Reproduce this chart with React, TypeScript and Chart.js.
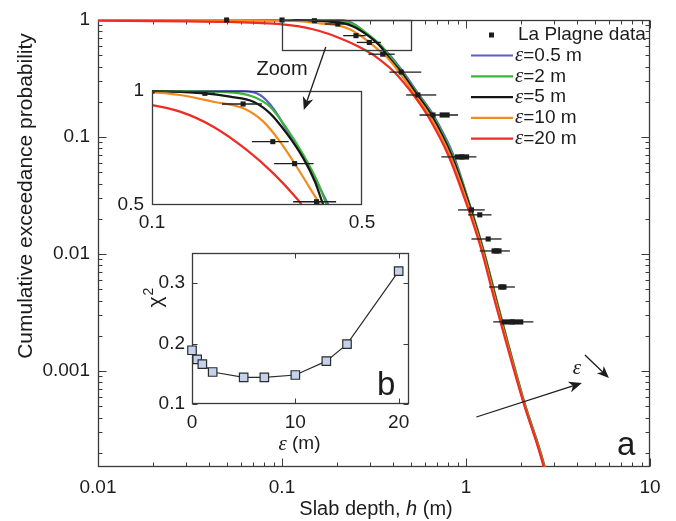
import { useEffect, useRef } from "react";
import { Chart, registerables } from "chart.js";

Chart.register(...registerables);

const SANS = '"Liberation Sans", Arial, Helvetica, sans-serif';
const SERIF = '"Liberation Serif", "Times New Roman", serif';
const INK = "#1c1c1c";
const FRAME = "#3a3a3a";

// ---- model curves: slab depth h (m) against exceedance probability, one per ε ----
const epsLabels = ["0.5", "2", "5", "10", "20"];
const curveColors = ["#5b5fc9", "#3db43a", "#161616", "#f28b1d", "#ee2b25"];

const hEps05 = [0.01, 0.1, 0.2014, 0.2288, 0.2534, 0.2807, 0.319, 0.3533, 0.3863, 0.4555, 0.5569, 0.6641, 0.8536, 1.057, 1.244, 1.465, 2.057, 2.678, 2.852];
const pEps05 = [1, 1, 0.999, 0.976, 0.9, 0.789, 0.671, 0.576, 0.5, 0.3594, 0.2286, 0.1542, 0.0702, 0.0252, 0.01082, 0.004043, 0.000565, 0.000151, 0.000096];

const hEps2 = [0.01, 0.1, 0.1818, 0.2175, 0.2471, 0.2807, 0.319, 0.3533, 0.3815, 0.4498, 0.5498, 0.6557, 0.8429, 1.057, 1.244, 1.465, 2.057, 2.678, 2.852];
const pEps2 = [1, 1, 0.992, 0.966, 0.909, 0.797, 0.678, 0.582, 0.5, 0.3594, 0.2286, 0.1542, 0.0702, 0.0252, 0.01082, 0.004043, 0.000565, 0.000151, 0.000096];

const hEps5 = [0.01, 0.1, 0.15, 0.1818, 0.2175, 0.2471, 0.2807, 0.319, 0.3487, 0.3718, 0.4442, 0.5431, 0.6475, 0.8325, 1.0503, 1.2366, 1.4558, 2.044, 2.6607, 2.8337];
const pEps5 = [1, 0.998, 0.986, 0.966, 0.937, 0.873, 0.773, 0.664, 0.576, 0.5, 0.3594, 0.2286, 0.1542, 0.0702, 0.0252, 0.01082, 0.004043, 0.000565, 0.000151, 0.000096];

const hEps10 = [0.01, 0.05, 0.1, 0.124, 0.16, 0.2014, 0.2348, 0.2667, 0.3031, 0.3357, 0.3624, 0.4331, 0.5295, 0.6314, 0.817, 1.0371, 1.2289, 1.4467, 2.044, 2.6607, 2.8337];
const pEps10 = [0.999, 0.997, 0.992, 0.976, 0.937, 0.9, 0.83, 0.735, 0.631, 0.553, 0.5, 0.3594, 0.2286, 0.1542, 0.0702, 0.0252, 0.01082, 0.004043, 0.000565, 0.000151, 0.000096];

const hEps20 = [0.01, 0.03, 0.05, 0.1, 0.124, 0.16, 0.2066, 0.2535, 0.3034, 0.3154, 0.4073, 0.5184, 0.6157, 0.8, 1.0197, 1.2134, 1.4285, 2.0313, 2.6445, 2.8155];
const pEps20 = [0.985, 0.975, 0.962, 0.918, 0.882, 0.805, 0.699, 0.606, 0.52, 0.5, 0.3594, 0.2286, 0.1542, 0.0702, 0.0252, 0.01082, 0.004043, 0.000565, 0.000151, 0.000096];

const curveH = [hEps05, hEps2, hEps5, hEps10, hEps20];
const curveP = [pEps05, pEps2, pEps5, pEps10, pEps20];

// ---- La Plagne observations (value, thin range, thick core range) ----
const obsH = [0.05, 0.1, 0.15, 0.201, 0.2524, 0.2983, 0.3529, 0.4442, 0.5478, 0.6615, 0.95, 1.0703, 1.188, 1.3201, 1.465, 1.575, 1.786];
const obsP = [1.0, 1.0, 0.986, 0.924, 0.735, 0.643, 0.51, 0.359, 0.2286, 0.1542, 0.0675, 0.0238, 0.0216, 0.01343, 0.01061, 0.00522, 0.002624];
const obsLow = [0.049, 0.098, 0.139, 0.171, 0.215, 0.255, 0.295, 0.3836, 0.4729, 0.5589, 0.7342, 0.9055, 1.0268, 1.0703, 1.188, 1.335, 1.4058];
const obsHigh = [0.051, 0.102, 0.162, 0.232, 0.285, 0.345, 0.41, 0.5711, 0.6894, 0.9055, 1.1394, 1.2647, 1.3761, 1.5604, 1.7312, 1.8443, 2.3236];
const obsCoreLow: (number | null)[] = [null, null, null, null, null, null, null, null, null, 0.7186, 0.87, null, null, null, 1.3761, 1.4966, 1.5604];
const obsCoreHigh: (number | null)[] = [null, null, null, null, null, null, null, null, null, 0.815, 1.04, null, null, null, 1.5604, 1.661, 2.0489];

// ---- misfit against ε ----
const epsGrid = [0, 0.5, 1, 2, 5, 7, 10, 13, 15, 20];
const chi2 = [0.189, 0.174, 0.166, 0.153, 0.144, 0.144, 0.148, 0.171, 0.199, 0.32];

// ---- axis ticks ----
const mainXTicks = [0.01, 0.1, 1, 10];
const mainYTicks = [0.001, 0.01, 0.1, 1];
const zoomXTicks = [0.1, 0.5];
const zoomYTicks = [0.5, 1];
const epsTicks = [0, 10, 20];
const chiTicks = [0.1, 0.2, 0.3];

// ---- annotation anchors (data coordinates of the main axes) ----
const zoomBoxH = [0.1, 0.5];
const zoomBoxP = [0.554, 1];
const zoomArrowH = [0.173, 0.1314];
const zoomArrowP = [0.588, 0.17];
const zoomTextAt = [0.1, 0.374];
const epsArrowH = [1.139, 4.263];
const epsArrowP = [4.04e-4, 7.9e-4];
const epsTextAt = [4.0, 1.06e-3];
const epsSmallArrowH = [4.43, 5.98];
const epsSmallArrowP = [1.37e-3, 8.7e-4];

function drawArrow(ctx: CanvasRenderingContext2D, x1: number, y1: number, x2: number, y2: number, len = 13, half = 5.5) {
  const ang = Math.atan2(y2 - y1, x2 - x1);
  const c = Math.cos(ang), s = Math.sin(ang);
  const bx = x2 - len * c, by = y2 - len * s;
  const nx = x2 - len * 0.72 * c, ny = y2 - len * 0.72 * s;
  ctx.beginPath();
  ctx.moveTo(x1, y1);
  ctx.lineTo(nx, ny);
  ctx.stroke();
  ctx.beginPath();
  ctx.moveTo(x2, y2);
  ctx.lineTo(bx - half * s, by + half * c);
  ctx.lineTo(nx, ny);
  ctx.lineTo(bx + half * s, by - half * c);
  ctx.closePath();
  ctx.fill();
}

function logMarks(min: number, max: number) {
  const out: { v: number; major: boolean }[] = [];
  for (let e = Math.floor(Math.log10(min)); e <= Math.ceil(Math.log10(max)); e++) {
    for (let m = 1; m <= 9; m++) {
      const v = m * Math.pow(10, e);
      if (v >= min * 0.9999 && v <= max * 1.0001) out.push({ v, major: m === 1 });
    }
  }
  return out;
}

function drawFrame(chart: any, xMarks: { v: number; major: boolean }[], yMarks: { v: number; major: boolean }[], majorLen: number, minorLen: number) {
  const { ctx, chartArea: a, scales } = chart;
  const L = Math.round(a.left) + 0.5, R = Math.round(a.right) - 0.5;
  const T = Math.round(a.top) + 0.5, B = Math.round(a.bottom) - 0.5;
  ctx.save();
  ctx.strokeStyle = FRAME;
  ctx.lineWidth = 1;
  ctx.beginPath();
  for (const m of xMarks) {
    const px = Math.round(scales.x.getPixelForValue(m.v)) + 0.5;
    const len = m.major ? majorLen : minorLen;
    ctx.moveTo(px, B); ctx.lineTo(px, B - len);
    ctx.moveTo(px, T); ctx.lineTo(px, T + len);
  }
  for (const m of yMarks) {
    const py = Math.round(scales.y.getPixelForValue(m.v)) + 0.5;
    const len = m.major ? majorLen : minorLen;
    ctx.moveTo(L, py); ctx.lineTo(L + len, py);
    ctx.moveTo(R, py); ctx.lineTo(R - len, py);
  }
  ctx.stroke();
  ctx.lineWidth = 1.3;
  ctx.strokeRect(L, T, R - L, B - T);
  ctx.restore();
}

function curveSets(width: number, clip: any) {
  return curveH.map((hs, i) => ({
    label: `ε = ${epsLabels[i]} m`,
    data: hs.map((h, k) => ({ x: h, y: curveP[i][k] })),
    showLine: true,
    borderColor: curveColors[i],
    backgroundColor: curveColors[i],
    borderWidth: width,
    pointRadius: 0,
    cubicInterpolationMode: "monotone",
    order: curveH.length - i,
    clip,
  }));
}

function obsSet(radius: number, clip: any) {
  return {
    label: "La Plagne data",
    data: obsH.map((h, k) => ({ x: h, y: obsP[k] })),
    showLine: false,
    pointStyle: "rect",
    pointRadius: radius,
    backgroundColor: INK,
    borderColor: INK,
    borderWidth: 0,
    order: 0,
    clip,
  };
}

function errorBarPlugin(clipArea: boolean) {
  return {
    id: "obsErrorBars",
    afterDatasetsDraw(chart: any) {
      const { ctx, chartArea: a, scales } = chart;
      ctx.save();
      if (clipArea) {
        ctx.beginPath();
        ctx.rect(a.left, a.top, a.right - a.left, a.bottom - a.top);
        ctx.clip();
      }
      ctx.strokeStyle = INK;
      ctx.fillStyle = INK;
      ctx.lineWidth = 1.3;
      obsH.forEach((_, k) => {
        const py = scales.y.getPixelForValue(obsP[k]);
        const x1 = scales.x.getPixelForValue(obsLow[k]);
        const x2 = scales.x.getPixelForValue(obsHigh[k]);
        ctx.beginPath();
        ctx.moveTo(x1, py);
        ctx.lineTo(x2, py);
        ctx.stroke();
        const cl = obsCoreLow[k], ch = obsCoreHigh[k];
        if (cl != null && ch != null) {
          const c1 = scales.x.getPixelForValue(cl), c2 = scales.x.getPixelForValue(ch);
          ctx.fillRect(c1, py - 2.6, c2 - c1, 5.2);
        }
      });
      ctx.restore();
    },
  };
}

function axis(type: string, min: number, max: number, ticks: number[], pad: number, fit: (s: any) => void, size = 19) {
  return {
    type,
    min,
    max,
    grid: { display: false, drawTicks: false },
    border: { display: false },
    afterBuildTicks: (s: any) => {
      s.ticks = ticks.map((v) => ({ value: v }));
    },
    afterFit: fit,
    ticks: {
      callback: (v: any) => String(v),
      font: { family: SANS, size },
      color: INK,
      padding: pad,
      autoSkip: false,
      maxRotation: 0,
      minRotation: 0,
    },
  };
}

function putMixed(ctx: CanvasRenderingContext2D, parts: { t: string; f: string }[], x: number, y: number, align: "left" | "center") {
  let total = 0;
  for (const p of parts) {
    ctx.font = p.f;
    total += ctx.measureText(p.t).width;
  }
  let cx = align === "center" ? x - total / 2 : x;
  ctx.textAlign = "left";
  for (const p of parts) {
    ctx.font = p.f;
    ctx.fillText(p.t, cx, y);
    cx += ctx.measureText(p.t).width;
  }
}

const mainDecor = {
  id: "mainDecor",
  beforeDatasetsDraw(chart: any) {
    drawFrame(chart, logMarks(0.01, 10), logMarks(1.51e-4, 1), 8, 4);
  },
  afterDraw(chart: any) {
    const { ctx, chartArea: a, scales } = chart;
    const X = (v: number) => scales.x.getPixelForValue(v);
    const Y = (v: number) => scales.y.getPixelForValue(v);
    ctx.save();

    // zoom window outline
    ctx.strokeStyle = FRAME;
    ctx.lineWidth = 1.3;
    ctx.strokeRect(Math.round(X(zoomBoxH[0])) + 0.5, Math.round(Y(zoomBoxP[1])) + 0.5,
      Math.round(X(zoomBoxH[1]) - X(zoomBoxH[0])), Math.round(Y(zoomBoxP[0]) - Y(zoomBoxP[1])));

    ctx.strokeStyle = INK;
    ctx.fillStyle = INK;
    ctx.lineWidth = 1.3;
    drawArrow(ctx, X(epsArrowH[0]), Y(epsArrowP[0]), X(epsArrowH[1]), Y(epsArrowP[1]));
    drawArrow(ctx, X(epsSmallArrowH[0]), Y(epsSmallArrowP[0]), X(epsSmallArrowH[1]), Y(epsSmallArrowP[1]), 12, 5);

    ctx.textBaseline = "middle";
    ctx.textAlign = "center";
    ctx.font = `20px ${SANS}`;
    ctx.fillText("Zoom", X(zoomTextAt[0]), Y(zoomTextAt[1]));
    ctx.font = `italic 21px ${SERIF}`;
    ctx.fillText("ε", X(epsTextAt[0]), Y(epsTextAt[1]));

    // panel letter
    ctx.textBaseline = "alphabetic";
    ctx.textAlign = "left";
    ctx.font = `33px ${SANS}`;
    ctx.fillText("a", a.right - 33, a.bottom - 12);

    // legend
    const lx1 = a.right - 179, lx2 = a.right - 137, tx = a.right - 135;
    ctx.textBaseline = "middle";
    ctx.fillRect(a.right - 161, a.top + 12.5, 5, 5);
    ctx.font = `19px ${SANS}`;
    ctx.fillText("La Plagne data", a.right - 132, a.top + 15);
    epsLabels.forEach((lab, i) => {
      const ly = a.top + 35.5 + i * 20.8;
      ctx.strokeStyle = curveColors[i];
      ctx.lineWidth = 2.2;
      ctx.beginPath();
      ctx.moveTo(lx1, ly);
      ctx.lineTo(lx2, ly);
      ctx.stroke();
      putMixed(ctx, [
        { t: "ε", f: `italic 21px ${SERIF}` },
        { t: "=", f: `19px ${SANS}` },
        { t: `${lab} m`, f: `19px ${SANS}` },
      ], tx, ly, "left");
    });

    // axis titles
    ctx.fillStyle = INK;
    ctx.textBaseline = "middle";
    putMixed(ctx, [
      { t: "Slab depth, ", f: `20px ${SANS}` },
      { t: "h", f: `italic 20px ${SANS}` },
      { t: " (m)", f: `20px ${SANS}` },
    ], (a.left + a.right) / 2 + 2, 509, "center");

    ctx.translate(26, 196);
    ctx.rotate(-Math.PI / 2);
    ctx.textAlign = "center";
    ctx.font = `21px ${SANS}`;
    ctx.fillText("Cumulative exceedance probability", 0, 0);
    ctx.restore();
  },
};

// the zoom arrow reaches into the inset, so it is painted on the inset layer
function zoomArrowPlugin(main: any) {
  return {
    id: "zoomArrow",
    afterDraw(chart: any) {
      const { ctx } = chart;
      const X = (v: number) => main.scales.x.getPixelForValue(v);
      const Y = (v: number) => main.scales.y.getPixelForValue(v);
      ctx.save();
      ctx.strokeStyle = INK;
      ctx.fillStyle = INK;
      ctx.lineWidth = 1.3;
      drawArrow(ctx, X(zoomArrowH[0]), Y(zoomArrowP[0]), X(zoomArrowH[1]), Y(zoomArrowP[1]));
      ctx.restore();
    },
  };
}

const whiteArea = {
  id: "whiteArea",
  beforeDraw(chart: any) {
    const { ctx, chartArea: a } = chart;
    ctx.save();
    ctx.fillStyle = "#ffffff";
    ctx.fillRect(a.left, a.top, a.right - a.left, a.bottom - a.top);
    ctx.restore();
  },
};

const zoomDecor = {
  id: "zoomDecor",
  afterDraw(chart: any) {
    drawFrame(chart, [], [], 0, 0);
  },
};

const chiDecor = {
  id: "chiDecor",
  beforeDatasetsDraw(chart: any) {
    drawFrame(chart, epsTicks.map((v) => ({ v, major: true })), chiTicks.map((v) => ({ v, major: true })), 5, 3);
  },
  afterDraw(chart: any) {
    const { ctx, chartArea: a } = chart;
    ctx.save();
    ctx.fillStyle = INK;
    ctx.textBaseline = "middle";
    putMixed(ctx, [
      { t: "ε", f: `italic 21px ${SERIF}` },
      { t: " (m)", f: `19px ${SANS}` },
    ], (a.left + a.right) / 2 - 1, a.bottom + 40, "center");

    ctx.textBaseline = "alphabetic";
    ctx.textAlign = "left";
    ctx.font = `33px ${SANS}`;
    ctx.fillText("b", a.right - 32, a.bottom - 9);

    ctx.translate(a.left - 36, 298);
    ctx.rotate(-Math.PI / 2);
    ctx.textBaseline = "middle";
    ctx.font = `21px ${SANS}`;
    const w = ctx.measureText("χ").width;
    ctx.textAlign = "left";
    ctx.fillText("χ", -w / 2 - 4, 0);
    ctx.font = `14px ${SANS}`;
    ctx.fillText("2", w / 2 - 3, -7);
    ctx.restore();
  },
};

function baseOptions(padding: any, scales: any) {
  return {
    animation: false,
    responsive: false,
    devicePixelRatio: 1,
    events: [],
    layout: { padding },
    plugins: { legend: { display: false }, tooltip: { enabled: false } },
    scales,
  };
}

export default function App() {
  const mainRef = useRef<HTMLCanvasElement>(null);
  const zoomRef = useRef<HTMLCanvasElement>(null);
  const chiRef = useRef<HTMLCanvasElement>(null);

  useEffect(() => {
    const main = new Chart(mainRef.current as HTMLCanvasElement, {
      type: "scatter",
      data: {
        datasets: [
          ...curveSets(2.2, { left: 0, top: 2, right: 0, bottom: 0 }),
          obsSet(3.6, false),
        ] as any,
      },
      options: baseOptions({ left: 0, top: 20, right: 26, bottom: 0 }, {
        x: axis("logarithmic", 0.01, 10, mainXTicks, 9, (s: any) => { s.height = 54; }),
        y: axis("logarithmic", 1.51e-4, 1, mainYTicks, 8, (s: any) => { s.width = 98; }),
      }) as any,
      plugins: [mainDecor, errorBarPlugin(false)],
    });

    const zoom = new Chart(zoomRef.current as HTMLCanvasElement, {
      type: "scatter",
      data: {
        datasets: [
          ...curveSets(2.2, { left: 0, top: 2, right: 0, bottom: 0 }),
          obsSet(3.6, 0),
        ] as any,
      },
      options: baseOptions({ left: 92, top: 91, right: 314, bottom: 276 }, {
        x: axis("logarithmic", 0.1, 0.5, zoomXTicks, 6, (s: any) => { s.height = 40; }),
        y: axis("logarithmic", 0.5, 1, zoomYTicks, 8, (s: any) => { s.width = 60; }),
      }) as any,
      plugins: [whiteArea, zoomDecor, errorBarPlugin(true), zoomArrowPlugin(main)],
    });

    const chi = new Chart(chiRef.current as HTMLCanvasElement, {
      type: "scatter",
      data: {
        datasets: [
          {
            label: "χ²",
            data: epsGrid.map((e, k) => ({ x: e, y: chi2[k] })),
            showLine: true,
            borderColor: "#2b2b2b",
            borderWidth: 1.2,
            pointStyle: "rect",
            pointRadius: 6,
            pointBackgroundColor: "#c5d2ec",
            pointBorderColor: "#2b2b2b",
            pointBorderWidth: 1.2,
            clip: false,
          },
        ] as any,
      },
      options: baseOptions({ left: 142, top: 253, right: 267, bottom: 77 }, {
        x: axis("linear", 0, 21, epsTicks, 7, (s: any) => { s.height = 40; }),
        y: axis("linear", 0.1, 0.35, chiTicks, 7, (s: any) => { s.width = 50; }),
      }) as any,
      plugins: [whiteArea, chiDecor],
    });

    return () => {
      main.destroy();
      zoom.destroy();
      chi.destroy();
    };
  }, []);

  const layer: any = { position: "absolute", left: 0, top: 0 };
  return (
    <div style={{ position: "absolute", left: 0, top: 0, width: 676, height: 521, background: "#ffffff" }}>
      <canvas ref={mainRef} width={676} height={521} style={layer} />
      <canvas ref={zoomRef} width={676} height={521} style={layer} />
      <canvas ref={chiRef} width={676} height={521} style={layer} />
    </div>
  );
}
